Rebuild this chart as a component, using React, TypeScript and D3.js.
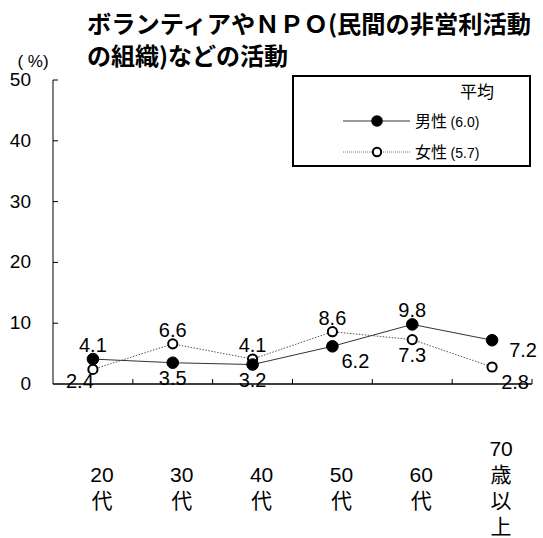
import React from 'react';
import * as d3 from 'd3';

// chart data
const categories = ['20代', '30代', '40代', '50代', '60代', '70歳以上'];
const categoryLines = [['20', '代'], ['30', '代'], ['40', '代'], ['50', '代'], ['60', '代'], ['70', '歳', '以', '上']];
const maleValues = [4.1, 3.5, 3.2, 6.2, 9.8, 7.2];
const femaleValues = [2.4, 6.6, 4.1, 8.6, 7.3, 2.8];
const yTicks = [0, 10, 20, 30, 40, 50];
const maleLabelPos = ['above', 'below', 'below', 'belowRight', 'above', 'right'];
const femaleLabelPos = ['belowLeft', 'above', 'above', 'above', 'below', 'belowRight'];
const legendTitle = '平均';
const maleName = '男性';
const femaleName = '女性';
const maleAvg = '(6.0)';
const femaleAvg = '(5.7)';
const titleLines = ['ボランティアやＮＰＯ(民間の非営利活動', 'の組織)などの活動'];

const W = 543;
const H = 538;
const FONT = '"Liberation Sans", Arial, "Noto Sans CJK JP", sans-serif';
const JP = '"Noto Sans CJK JP", "Liberation Sans", sans-serif';

const x = d3.scaleBand<string>().domain(categories).range([53, 532]);
const y = d3.scaleLinear().domain([0, 50]).range([384, 80]);

// where each value label sits relative to its point
const offsets: Record<string, [number, number]> = {
  above: [0, -7],
  below: [0, 22],
  belowRight: [23, 22],
  right: [31, 17],
  belowLeft: [-13, 19],
};

const cx = (c: string) => (x(c) as number) + x.bandwidth() / 2;

const Series = ({ values, pos, filled, dashed }: { values: number[]; pos: string[]; filled: boolean; dashed: boolean }) => {
  const line = d3.line<number>().x((_, i) => cx(categories[i])).y(d => y(d));
  return (
    <g>
      <path d={line(values) || ''} fill="none" stroke={dashed ? '#555' : '#333'} strokeWidth={1}
        strokeDasharray={dashed ? '1.5,1.5' : undefined} />
      {values.map((v, i) => (
        <circle key={i} cx={cx(categories[i])} cy={y(v)} r={filled ? 5.8 : 4.6}
          fill={filled ? '#000' : '#fff'} stroke="#000" strokeWidth={filled ? 1 : 2} />
      ))}
      {values.map((v, i) => {
        const [dx, dy] = offsets[pos[i]];
        return (
          <text key={'t' + i} x={cx(categories[i]) + dx} y={y(v) + dy} textAnchor="middle"
            fontSize={20} fontFamily={FONT} fill="#000">{v.toFixed(1)}</text>
        );
      })}
    </g>
  );
};

export default function App() {
  const left = x.range()[0];
  const right = x.range()[1];
  const boundaries = [...categories.map(c => x(c) as number), right];
  return (
    <svg width={W} height={H} style={{ position: 'absolute', left: 0, top: 0, background: '#fff' }}>
      <rect width={W} height={H} fill="#fff" />
      {/* title */}
      <text x={87} y={33} fontSize={24} fontWeight="bold" fontFamily={JP} fill="#000"
        textLength={444} lengthAdjust="spacingAndGlyphs">{titleLines[0]}</text>
      <text x={87} y={65} fontSize={24} fontWeight="bold" fontFamily={JP} fill="#000">{titleLines[1]}</text>
      <text x={33} y={67} textAnchor="middle" fontSize={17} fontFamily={FONT}>( %)</text>

      {/* y axis */}
      <line x1={left} x2={left} y1={y(50)} y2={y(0)} stroke="#000" />
      {yTicks.map(t => (
        <g key={t}>
          {t > 0 && <line x1={left} x2={left + 5} y1={y(t)} y2={y(t)} stroke="#000" />}
          <text x={31} y={y(t) + 6} textAnchor="end" fontSize={19} fontFamily={FONT}>{t}</text>
        </g>
      ))}

      {/* x axis */}
      <line x1={left} x2={right} y1={y(0)} y2={y(0)} stroke="#000" strokeWidth={1.3} />
      {boundaries.slice(1).map((b, i) => (
        <line key={i} x1={b} x2={b} y1={y(0)} y2={y(0) - 5} stroke="#000" />
      ))}
      {categoryLines.map((lines, i) => {
        const n = lines.length;
        const first = 487 - ((n - 1) * 26) / 2 + 8;
        return (
          <text key={i} textAnchor="middle" fontSize={21} fontFamily={FONT}>
            {lines.map((l, j) => (
              <tspan key={j} x={cx(categories[i]) + 9} y={first + j * 26}>{l}</tspan>
            ))}
          </text>
        );
      })}

      <Series values={femaleValues} pos={femaleLabelPos} filled={false} dashed={true} />
      <Series values={maleValues} pos={maleLabelPos} filled={true} dashed={false} />

      {/* legend */}
      <rect x={293} y={76} width={237} height={90} fill="#fff" stroke="#000" strokeWidth={2} />
      <text x={477} y={98} textAnchor="middle" fontSize={17} fontFamily={JP}>{legendTitle}</text>
      <line x1={343} x2={410} y1={121} y2={121} stroke="#333" />
      <circle cx={377} cy={121} r={5.8} fill="#000" />
      <text x={415} y={127} fontFamily={JP} fontSize={16}>{maleName} <tspan fontSize={14} fontFamily={FONT}>{maleAvg}</tspan></text>
      <line x1={343} x2={410} y1={152} y2={152} stroke="#777" strokeDasharray="1,1" />
      <circle cx={377} cy={152} r={4.2} fill="#fff" stroke="#000" strokeWidth={2} />
      <text x={415} y={158} fontFamily={JP} fontSize={16}>{femaleName} <tspan fontSize={14} fontFamily={FONT}>{femaleAvg}</tspan></text>
    </svg>
  );
}
